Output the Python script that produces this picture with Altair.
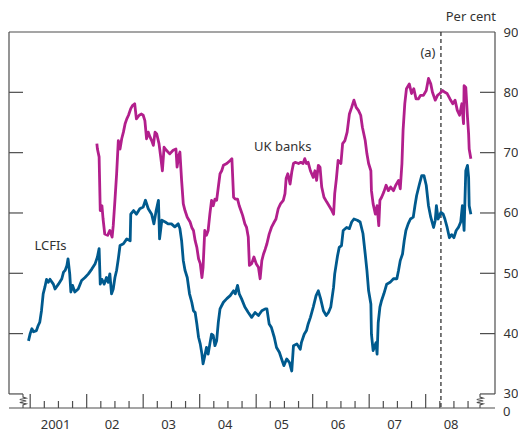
import altair as alt
import pandas as pd

# ---------------- data ----------------
lcfi_year = [2000.97, 2001.00, 2001.03, 2001.06, 2001.11, 2001.14, 2001.17, 2001.20, 2001.23, 2001.26,
             2001.29, 2001.32, 2001.35, 2001.41, 2001.44, 2001.50, 2001.56, 2001.59, 2001.62, 2001.65,
             2001.67, 2001.70, 2001.72, 2001.75, 2001.79, 2001.85, 2001.91, 2001.97, 2002.03, 2002.09,
             2002.15, 2002.19, 2002.22, 2002.24, 2002.27, 2002.31, 2002.35, 2002.38, 2002.41, 2002.44,
             2002.47, 2002.50, 2002.53, 2002.56, 2002.59, 2002.65, 2002.71, 2002.77, 2002.78, 2002.83,
             2002.88, 2002.94, 2003.00, 2003.04, 2003.09, 2003.15, 2003.19, 2003.23, 2003.27, 2003.29,
             2003.33, 2003.39, 2003.44, 2003.50, 2003.56, 2003.62, 2003.65, 2003.68, 2003.71, 2003.74,
             2003.78, 2003.82, 2003.86, 2003.89, 2003.92, 2003.95, 2003.98, 2004.01, 2004.04, 2004.06,
             2004.09, 2004.12, 2004.15, 2004.18, 2004.21, 2004.24, 2004.27, 2004.30, 2004.33, 2004.36,
             2004.42, 2004.48, 2004.54, 2004.60, 2004.63, 2004.67, 2004.70, 2004.74, 2004.80, 2004.86,
             2004.92, 2004.98, 2005.04, 2005.10, 2005.16, 2005.19, 2005.23, 2005.27, 2005.32, 2005.36,
             2005.41, 2005.45, 2005.49, 2005.54, 2005.59, 2005.63, 2005.66, 2005.72, 2005.78, 2005.80,
             2005.85, 2005.89, 2005.92, 2005.96, 2006.01, 2006.06, 2006.10, 2006.14, 2006.19, 2006.24,
             2006.28, 2006.32, 2006.37, 2006.39, 2006.44, 2006.47, 2006.51, 2006.54, 2006.60, 2006.65,
             2006.69, 2006.73, 2006.79, 2006.84, 2006.89, 2006.93, 2006.96, 2006.99, 2007.03, 2007.04,
             2007.07, 2007.12, 2007.14, 2007.16, 2007.19, 2007.22, 2007.26, 2007.31, 2007.37, 2007.43,
             2007.49, 2007.52, 2007.55, 2007.59, 2007.62, 2007.65, 2007.69, 2007.73, 2007.78, 2007.81,
             2007.84, 2007.89, 2007.93, 2007.97, 2008.01, 2008.05, 2008.09, 2008.14, 2008.17, 2008.19,
             2008.22, 2008.27, 2008.31, 2008.34, 2008.38, 2008.42, 2008.46, 2008.50, 2008.54, 2008.58,
             2008.62, 2008.65, 2008.68, 2008.71, 2008.74, 2008.76, 2008.77, 2008.80]
lcfi_value = [38.8, 40.0, 40.8, 40.3, 40.5, 41.3, 41.9, 43.8, 46.6, 47.7,
              49.0, 48.5, 49.0, 48.2, 47.4, 48.2, 49.1, 50.2, 50.5, 51.3,
              52.4, 49.9, 46.9, 48.0, 46.9, 47.4, 48.8, 49.3, 49.9, 50.7,
              51.6, 52.7, 54.1, 48.2, 49.0, 48.2, 49.3, 48.5, 49.9, 46.6,
              47.4, 49.3, 50.5, 52.4, 54.6, 54.9, 55.7, 55.4, 59.8, 60.4,
              59.8, 60.7, 61.0, 62.1, 60.7, 59.8, 58.2, 60.4, 62.1, 55.7,
              58.8, 58.5, 58.2, 58.2, 57.7, 58.2, 57.4, 55.4, 52.1, 50.5,
              49.3, 46.6, 45.2, 43.8, 43.5, 41.6, 39.4, 38.3, 36.6, 35.0,
              36.3, 37.7, 36.6, 38.3, 39.9, 39.7, 38.0, 38.8, 41.9, 44.1,
              45.2, 45.8, 46.3, 47.1, 46.6, 48.0, 46.6, 45.8, 44.4, 43.5,
              42.7, 43.5, 43.0, 43.8, 44.1, 44.1, 41.6, 41.0, 39.4, 37.7,
              36.9, 35.8, 34.7, 35.8, 35.2, 33.8, 38.0, 38.3, 37.4, 38.5,
              39.9, 40.5, 41.6, 42.7, 44.4, 46.3, 47.1, 45.8, 43.8, 43.0,
              43.5, 44.4, 47.7, 49.9, 52.9, 54.3, 54.6, 57.1, 57.6, 57.4,
              58.5, 59.0, 58.8, 58.5, 56.6, 53.2, 50.5, 47.1, 44.9, 39.9,
              37.2, 38.5, 36.6, 41.8, 44.4, 45.5, 46.6, 48.2, 48.5, 49.1,
              49.1, 50.5, 52.1, 53.2, 55.4, 57.1, 58.2, 59.0, 59.3, 61.2,
              62.9, 64.8, 66.2, 66.2, 64.6, 61.2, 59.3, 57.6, 58.8, 61.2,
              59.0, 60.1, 59.8, 59.0, 57.6, 55.9, 56.4, 55.9, 57.1, 57.6,
              58.5, 61.2, 57.1, 67.0, 67.9, 65.9, 61.2, 59.8]

ukb_year = [2002.18, 2002.19, 2002.22, 2002.24, 2002.27, 2002.29, 2002.32, 2002.37, 2002.41, 2002.45,
            2002.47, 2002.50, 2002.53, 2002.56, 2002.59, 2002.62, 2002.65, 2002.68, 2002.71, 2002.74,
            2002.78, 2002.81, 2002.85, 2002.88, 2002.93, 2002.97, 2003.00, 2003.03, 2003.06, 2003.09,
            2003.12, 2003.15, 2003.18, 2003.21, 2003.24, 2003.28, 2003.31, 2003.34, 2003.37, 2003.41,
            2003.47, 2003.53, 2003.58, 2003.60, 2003.63, 2003.65, 2003.68, 2003.71, 2003.74, 2003.78,
            2003.83, 2003.86, 2003.89, 2003.92, 2003.95, 2003.98, 2004.01, 2004.04, 2004.06, 2004.09,
            2004.12, 2004.15, 2004.18, 2004.21, 2004.24, 2004.27, 2004.30, 2004.33, 2004.36, 2004.39,
            2004.42, 2004.48, 2004.54, 2004.57, 2004.60, 2004.63, 2004.67, 2004.70, 2004.73, 2004.76,
            2004.80, 2004.83, 2004.86, 2004.88, 2004.92, 2004.96, 2005.00, 2005.04, 2005.07, 2005.10,
            2005.13, 2005.16, 2005.19, 2005.23, 2005.27, 2005.32, 2005.35, 2005.39, 2005.43, 2005.48,
            2005.51, 2005.53, 2005.56, 2005.60, 2005.63, 2005.66, 2005.69, 2005.75, 2005.79, 2005.83,
            2005.86, 2005.89, 2005.92, 2005.96, 2006.01, 2006.04, 2006.07, 2006.10, 2006.13, 2006.16,
            2006.20, 2006.25, 2006.29, 2006.34, 2006.37, 2006.39, 2006.42, 2006.45, 2006.50, 2006.53,
            2006.57, 2006.61, 2006.65, 2006.69, 2006.73, 2006.77, 2006.81, 2006.85, 2006.88, 2006.93,
            2006.96, 2006.99, 2007.03, 2007.04, 2007.07, 2007.11, 2007.14, 2007.17, 2007.19, 2007.22,
            2007.26, 2007.30, 2007.34, 2007.38, 2007.43, 2007.47, 2007.52, 2007.55, 2007.58, 2007.60,
            2007.63, 2007.66, 2007.71, 2007.75, 2007.79, 2007.83, 2007.87, 2007.91, 2007.96, 2008.01,
            2008.05, 2008.09, 2008.12, 2008.17, 2008.21, 2008.25, 2008.30, 2008.34, 2008.38, 2008.43,
            2008.48, 2008.52, 2008.56, 2008.60, 2008.64, 2008.67, 2008.68, 2008.71, 2008.74, 2008.76,
            2008.77, 2008.80]
ukb_value = [71.5, 70.6, 69.3, 60.4, 61.2, 59.0, 56.5, 56.3, 57.1, 56.0,
             57.9, 62.1, 66.5, 72.0, 70.6, 72.3, 73.4, 74.8, 75.6, 76.2,
             77.3, 77.8, 78.1, 75.6, 76.2, 76.4, 76.2, 75.3, 72.3, 73.4,
             72.6, 72.0, 71.2, 73.4, 73.1, 71.5, 69.3, 67.0, 70.9, 70.4,
             69.8, 70.4, 70.6, 67.6, 69.5, 70.1, 65.4, 61.5, 60.4, 59.3,
             58.5, 57.6, 57.1, 55.4, 54.3, 52.4, 51.6, 49.3, 51.0, 57.1,
             56.3, 57.1, 59.8, 62.1, 61.2, 62.3, 62.1, 64.3, 66.5, 67.0,
             67.9, 68.2, 68.7, 69.0, 62.6, 62.3, 62.3, 61.2, 60.4, 59.6,
             58.2, 57.6, 56.0, 51.3, 51.6, 52.7, 51.6, 51.0, 49.1, 52.1,
             53.2, 54.0, 54.9, 56.5, 57.6, 58.5, 59.0, 60.7, 61.5, 62.1,
             63.2, 65.7, 66.5, 64.8, 66.8, 68.2, 68.4, 68.2, 68.4, 68.2,
             69.0, 68.2, 68.4, 67.0, 65.9, 67.0, 65.4, 67.9, 67.6, 64.3,
             62.6, 61.8, 61.2, 60.4, 59.8, 63.2, 65.7, 68.7, 68.2, 71.5,
             72.0, 73.4, 76.4, 77.5, 78.7, 77.5, 77.0, 76.2, 74.2, 72.0,
             69.8, 68.2, 67.0, 63.7, 61.5, 59.8, 61.2, 57.9, 62.1, 62.6,
             63.5, 64.6, 63.7, 64.3, 63.7, 64.6, 65.4, 64.0, 68.2, 73.7,
             78.1, 80.6, 81.4, 79.8, 80.6, 78.9, 78.9, 79.5, 79.5, 80.3,
             82.3, 81.4, 80.0, 78.7, 79.5, 79.8, 80.3, 80.0, 79.8, 78.9,
             78.1, 78.7, 77.0, 76.2, 78.1, 74.8, 81.1, 80.8, 75.9, 73.1,
             70.6, 69.0]

years = [2001, 2002, 2003, 2004, 2005, 2006, 2007, 2008]
year_labels = ["2001", "02", "03", "04", "05", "06", "07", "08"]
right_ticks = [30, 40, 50, 60, 70, 80]
y_labels = [30, 40, 50, 60, 70, 80, 90]
report_line = 2008.27

# ---------------- styling ----------------
FONT = "Noto Sans"
TXT = "#333333"
FR = "#4d4d4d"
BLUE = "#005a8e"
MAG = "#b21f8c"
W, H = 486, 376
FS = 13

xs = alt.Scale(domain=[2000.625, 2009.227], nice=False, zero=False)
ys = alt.Scale(domain=[27.67, 90], nice=False, zero=False)
yax = alt.Axis(orient="right", values=y_labels, ticks=False, domain=False, grid=False,
               labelPadding=8, labelFont=FONT, labelFontSize=FS, labelColor=TXT, title=None)


def X(field=None, datum=None):
    if datum is not None:
        return alt.X(datum=datum, scale=xs, axis=None)
    return alt.X(field, type="quantitative", scale=xs, axis=None)


def Y(field=None, datum=None):
    if datum is not None:
        return alt.Y(datum=datum, scale=ys, axis=yax)
    return alt.Y(field, type="quantitative", scale=ys, axis=yax)


df_l = pd.DataFrame({"year": lcfi_year, "value": lcfi_value})
df_u = pd.DataFrame({"year": ukb_year, "value": ukb_value})

lcfi = alt.Chart(df_l).mark_line(color=BLUE, strokeWidth=2.8, strokeJoin="round").encode(
    x=X("year"), y=Y("value"))
ukb = alt.Chart(df_u).mark_line(color=MAG, strokeWidth=2.8, strokeJoin="round").encode(
    x=X("year"), y=Y("value"))

one = pd.DataFrame({"k": [0]})
rule_kw = dict(color=FR, strokeWidth=1.2)

top = alt.Chart(one).mark_rule(**rule_kw).encode(y=Y(datum=90), x=alt.value(0), x2=alt.value(W))
left = alt.Chart(one).mark_rule(**rule_kw).encode(x=alt.value(0), y=Y(datum=90), y2=alt.Y2(datum=30))
right = alt.Chart(one).mark_rule(**rule_kw).encode(x=alt.value(W), y=Y(datum=90), y2=alt.Y2(datum=30))
bottom = alt.Chart(one).mark_rule(**rule_kw).encode(y=alt.value(H), x=alt.value(0), x2=alt.value(W))

df_rt = pd.DataFrame({"v": right_ticks})
lticks = alt.Chart(df_rt).mark_rule(**rule_kw).encode(y=Y("v"), x=alt.value(0), x2=alt.value(14))
rticks = alt.Chart(df_rt).mark_rule(**rule_kw).encode(y=Y("v"), x=alt.value(W - 15), x2=alt.value(W))

df_major = pd.DataFrame({"t": years})
df_minor = pd.DataFrame({"t": [y + q for y in years for q in (0.25, 0.5, 0.75)]})
major = alt.Chart(df_major).mark_rule(**rule_kw).encode(x=X("t"), y=alt.value(H), y2=alt.value(H - 14))
minor = alt.Chart(df_minor).mark_rule(**rule_kw).encode(x=X("t"), y=alt.value(H), y2=alt.value(H - 7))

ZIG = "M0,-1L0,-0.55L0.45,-0.4L-0.45,-0.2L0.45,0L-0.45,0.2L0.45,0.4L0,0.55L0,1"
zig_kw = dict(shape=ZIG, filled=False, size=200, strokeWidth=1.1, color=FR, opacity=1)
zl = alt.Chart(one).mark_point(**zig_kw).encode(x=alt.value(14), y=alt.value(H - 7))
zr = alt.Chart(one).mark_point(**zig_kw).encode(x=alt.value(W - 15), y=alt.value(H - 7))

dash = alt.Chart(one).mark_rule(color="#333333", strokeWidth=1.3, strokeDash=[4, 3]).encode(
    x=X(datum=report_line), y=alt.value(0), y2=alt.value(H))

txt_kw = dict(font=FONT, fontSize=FS, color=TXT)
t_pc = alt.Chart(one).mark_text(text="Per cent", align="right", baseline="alphabetic", **txt_kw).encode(
    x=alt.value(W + 1), y=alt.value(-11))
t_a = alt.Chart(one).mark_text(text="(a)", align="center", baseline="middle", **txt_kw).encode(
    x=X(datum=2008.04), y=Y(datum=86.6))
t_uk = alt.Chart(one).mark_text(text="UK banks", align="center", baseline="middle", **txt_kw).encode(
    x=X(datum=2005.47), y=Y(datum=70.9))
t_lc = alt.Chart(one).mark_text(text="LCFIs", align="center", baseline="middle", **txt_kw).encode(
    x=X(datum=2001.36), y=Y(datum=54.6))
t_zero = alt.Chart(one).mark_text(text="0", align="left", baseline="middle", **txt_kw).encode(
    x=alt.value(W + 8), y=alt.value(H + 4))

df_xl = pd.DataFrame({"pos": [y + 0.45 for y in years], "label": year_labels})
xlabels = alt.Chart(df_xl).mark_text(baseline="middle", align="center", **txt_kw).encode(
    x=X("pos"), y=alt.value(H + 17), text="label:N")

chart = alt.layer(
    top, left, right, bottom, lticks, rticks, major, minor, zl, zr, dash,
    lcfi, ukb, t_pc, t_a, t_uk, t_lc, t_zero, xlabels
).properties(
    width=W, height=H, autosize="none",
    padding={"left": 1, "top": 24, "right": 23, "bottom": 24},
    background="white",
).configure_view(stroke=None)

chart.save("out.html", embed_options={"renderer": "svg", "actions": False})
